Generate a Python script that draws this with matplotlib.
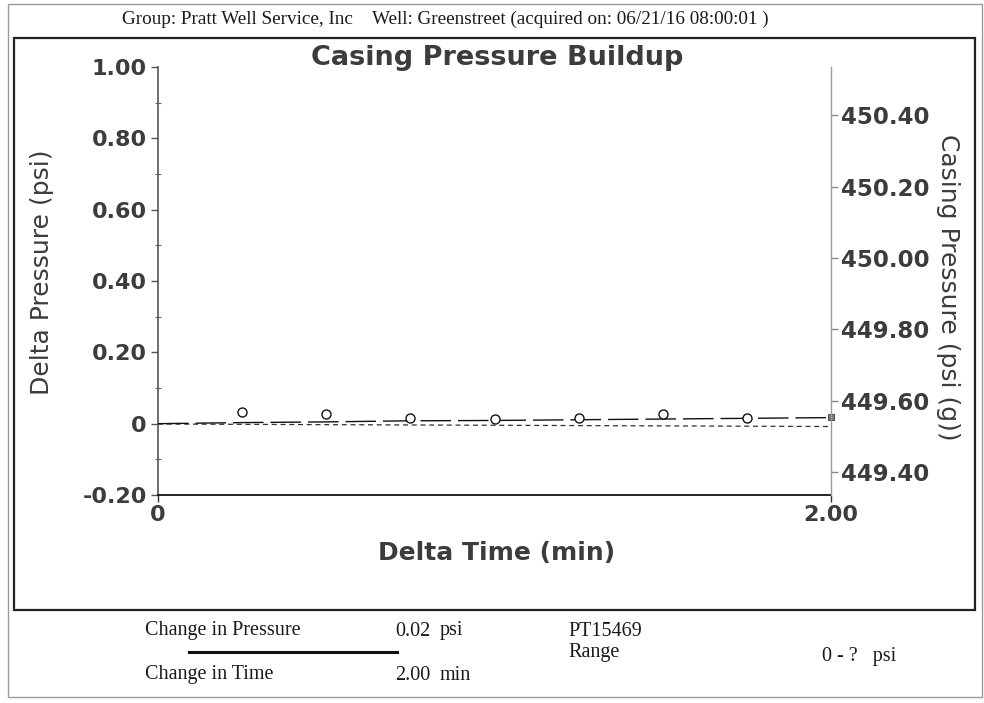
import matplotlib
matplotlib.use("Agg")
import matplotlib.pyplot as plt
from matplotlib.patches import Rectangle
from matplotlib.ticker import FixedLocator, MultipleLocator

# ---------------- data ----------------
title = "Casing Pressure Buildup"
header_group = "Group: Pratt Well Service, Inc"
header_well = "Well: Greenstreet (acquired on: 06/21/16 08:00:01 )"

# pressure trace (delta pressure, psi) vs delta time (min)
trace_time = [0.0, 0.25, 0.50, 0.75, 1.00, 1.25, 1.50, 1.75, 2.00]
trace_dp = [0.000, 0.003, 0.005, 0.008, 0.009, 0.011, 0.013, 0.015, 0.017]

# sampled points (open circles)
pt_time = [0.25, 0.50, 0.75, 1.00, 1.25, 1.50, 1.75]
pt_dp = [0.034, 0.028, 0.017, 0.014, 0.017, 0.028, 0.017]

# final point (square)
end_time = [2.00]
end_dp = [0.020]

# dashed reference line
ref_time = [0.0, 2.00]
ref_dp = [-0.001, -0.008]

left_ticks = [-0.20, 0.0, 0.20, 0.40, 0.60, 0.80, 1.00]
left_labels = ["-0.20", "0", "0.20", "0.40", "0.60", "0.80", "1.00"]
right_ticks = [449.40, 449.60, 449.80, 450.00, 450.20, 450.40]
right_labels = ["449.40", "449.60", "449.80", "450.00", "450.20", "450.40"]
x_ticks = [0.0, 2.00]
x_labels = ["0", "2.00"]

summary_rows = [
    ("Change in Pressure", "0.02", "psi"),
    ("Change in Time", "2.00", "min"),
]
gauge_id = "PT15469"
range_label = "Range"
range_value = "0 - ?   psi"

# ---------------- figure ----------------
W, H = 984, 703
fig = plt.figure(figsize=(W / 100, H / 100), dpi=100)
fig.patch.set_facecolor("white")

def fx(px):
    return px / W

def fy(py):
    return 1 - py / H

SANS = "DejaVu Sans"
SERIF = "Liberation Serif"
GRAY = "#3c3c3c"
INK = "#1a1a1a"

# frames
fig.patches.append(Rectangle((fx(8), fy(697)), fx(982) - fx(8), fy(4) - fy(697),
                             transform=fig.transFigure, fill=False,
                             edgecolor="#9a9a9a", lw=1.0))
fig.patches.append(Rectangle((fx(14), fy(610)), fx(975) - fx(14), fy(38) - fy(610),
                             transform=fig.transFigure, fill=False,
                             edgecolor="#222222", lw=1.6))

# header
fig.text(fx(122), fy(19), header_group, family=SERIF, fontsize=13.8,
         color=INK, ha="left", va="center")
fig.text(fx(372), fy(19), header_well, family=SERIF, fontsize=13.8,
         color=INK, ha="left", va="center")

# title
fig.text(fx(497), fy(58), title, family=SANS, fontweight="bold", fontsize=19.5,
         color=GRAY, ha="center", va="center")

# axes
ax = fig.add_axes([fx(158), fy(495), fx(831) - fx(158), fy(67) - fy(495)])
ax.set_xlim(0, 2.0)
ax.set_ylim(-0.20, 1.00)
ax.patch.set_alpha(0)

ax.plot(trace_time, trace_dp, color="#111111", lw=1.0, linestyle=(0, (22, 5)),
        zorder=3)
ax.plot(ref_time, ref_dp, color="#333333", lw=0.9, linestyle=(0, (4, 3)), zorder=2)
ax.plot(pt_time, pt_dp, linestyle="none", marker="o", ms=6.5, mfc="white",
        mec="#111111", mew=1.0, zorder=4)
ax.plot(end_time, end_dp, linestyle="none", marker="s", ms=4.5, mfc="#777777",
        mec="#555555", mew=0.8, zorder=4, clip_on=False)

for s in ["top", "right"]:
    ax.spines[s].set_visible(False)
ax.spines["left"].set_color("#555555")
ax.spines["left"].set_linewidth(1.2)
ax.spines["bottom"].set_color("#111111")
ax.spines["bottom"].set_linewidth(1.3)

ax.yaxis.set_major_locator(FixedLocator(left_ticks))
ax.set_yticklabels(left_labels)
ax.yaxis.set_minor_locator(MultipleLocator(0.10))
ax.tick_params(axis="y", which="major", direction="out", length=5, width=1.0,
               color="#555555", pad=3, labelsize=16, labelcolor=GRAY)
ax.tick_params(axis="y", which="minor", direction="inout", length=4, width=0.8,
               color="#666666")
for lbl in ax.get_yticklabels():
    lbl.set_fontfamily(SANS)
    lbl.set_fontweight("bold")

ax.xaxis.set_major_locator(FixedLocator(x_ticks))
ax.set_xticklabels(x_labels)
ax.tick_params(axis="x", which="major", direction="out", length=5, width=1.0,
               color="#333333", pad=2, labelsize=16, labelcolor=GRAY)
for lbl in ax.get_xticklabels():
    lbl.set_fontfamily(SANS)
    lbl.set_fontweight("bold")

ax.set_xlabel("Delta Time (min)", family=SANS, fontweight="bold", fontsize=18,
              color=GRAY, va="center")
ax.xaxis.set_label_coords((497 - 158) / 673, (495 - 553) / 428)
ax.set_ylabel("Delta Pressure (psi)", family=SANS, fontsize=18, color=GRAY,
              va="center", ha="center")
ax.yaxis.set_label_coords((42 - 158) / 673, (495 - 272) / 428)

# right axis (casing pressure)
ax2 = ax.twinx()
ax2.set_ylim(449.3355, 450.5355)
for s in ["top", "left", "bottom"]:
    ax2.spines[s].set_visible(False)
ax2.spines["right"].set_color("#9a9a9a")
ax2.spines["right"].set_linewidth(1.0)
ax2.yaxis.set_major_locator(FixedLocator(right_ticks))
ax2.set_yticklabels(right_labels)
ax2.tick_params(axis="y", which="major", direction="out", length=5, width=1.0,
                color="#888888", pad=2, labelsize=16.5, labelcolor=GRAY)
for lbl in ax2.get_yticklabels():
    lbl.set_fontfamily(SANS)
    lbl.set_fontweight("bold")
ax2.set_ylabel("Casing Pressure (psi (g))", family=SANS, fontsize=18, color=GRAY,
               rotation=270, va="center", ha="center")
ax2.yaxis.set_label_coords((948 - 158) / 673, (495 - 287) / 428)

# summary table
row_y = [631, 675]
for (name, val, unit), yy in zip(summary_rows, row_y):
    fig.text(fx(145), fy(yy), name, family=SERIF, fontsize=14.5, color=INK,
             ha="left", va="center")
    fig.text(fx(430), fy(yy), val, family=SERIF, fontsize=14.5, color=INK,
             ha="right", va="center")
    fig.text(fx(440), fy(yy), unit, family=SERIF, fontsize=14.5, color=INK,
             ha="left", va="center")
fig.add_artist(plt.Line2D([fx(189), fx(397)], [fy(652), fy(652)],
                          transform=fig.transFigure, color="#111111", lw=2.2))
fig.text(fx(568), fy(631), gauge_id, family=SERIF, fontsize=14.5, color=INK,
         ha="left", va="center")
fig.text(fx(568), fy(653), range_label, family=SERIF, fontsize=14.5, color=INK,
         ha="left", va="center")
fig.text(fx(822), fy(656), range_value, family=SERIF, fontsize=14.5, color=INK,
         ha="left", va="center")

fig.savefig("out.png", dpi=100, facecolor="white")
